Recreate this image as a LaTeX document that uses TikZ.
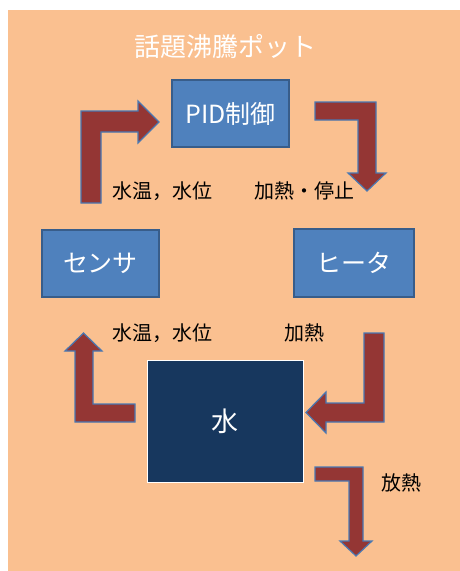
\documentclass[tikz,border=0pt]{standalone}
\usepackage{fontspec}
\setmainfont{Noto Sans CJK JP}
\definecolor{peach}{HTML}{FAC090}
\definecolor{boxfill}{HTML}{4F81BD}
\definecolor{boxline}{HTML}{385D8A}
\definecolor{arrfill}{HTML}{943634}
\definecolor{arrline}{HTML}{4A78B2}
\definecolor{waterfill}{HTML}{17375E}
\begin{document}
\begin{tikzpicture}[x=1pt,y=-1pt,
  blk/.style={draw=boxline,line width=1.4pt,fill=boxfill,text=white,font=\fontsize{25}{28}\selectfont,inner sep=0pt},
  lbl/.style={text=black,font=\fontsize{20}{23}\selectfont,inner sep=0pt},
  barrow/.style={draw=arrline,line width=1.2pt,fill=arrfill,line join=miter}]
\useasboundingbox (0,0) rectangle (460,571);
\fill[white] (0,0) rectangle (460,571);
\fill[peach] (8,10) rectangle (460,571);
\node[text=white,font=\fontsize{26}{30}\selectfont,inner sep=0pt] (title) at (225,47) {話題沸騰ポット};
\node[blk,minimum width=117pt,minimum height=67pt] (pid) at (230.5,113.5) {PID制御};
\node[blk,minimum width=117pt,minimum height=67pt] (sensor) at (100.5,263.5) {センサ};
\node[blk,minimum width=120pt,minimum height=68pt] (heater) at (354,263) {ヒータ};
\node[draw=white,line width=1pt,fill=waterfill,text=white,font=\fontsize{27}{30}\selectfont,minimum width=156pt,minimum height=122pt,inner sep=0pt] (water) at (225,421) {水};
\node[lbl] (l1) at (162,191) {水温，水位};
\node[lbl] (l2) at (304,191) {加熱・停止};
\node[lbl] (l3) at (162,333) {水温，水位};
\node[lbl] (l4) at (304,333) {加熱};
\node[lbl] (l5) at (401,483) {放熱};
% sensor -> PID
\draw[barrow] (81,203) -- (81,111) -- (138,111) -- (138,101) -- (159,122) -- (138,143) -- (138,132) -- (101,132) -- (101,203) -- cycle;
% PID -> heater
\draw[barrow] (315,102) -- (376,102) -- (376,173) -- (386,173) -- (367,191) -- (348,173) -- (358,173) -- (358,120) -- (315,120) -- cycle;
% water -> sensor
\draw[barrow] (135,404) -- (135,422) -- (75,422) -- (75,351) -- (65,351) -- (83.5,333) -- (102,351) -- (93,351) -- (93,404) -- cycle;
% heater -> water
\draw[barrow] (364,333) -- (384,333) -- (384,422) -- (326,422) -- (326,433) -- (306,412.5) -- (326,392) -- (326,403) -- (364,403) -- cycle;
% water -> out
\draw[barrow] (315,467) -- (363,467) -- (363,541) -- (372,541) -- (356,556) -- (340,541) -- (349,541) -- (349,481) -- (315,481) -- cycle;
\end{tikzpicture}
\end{document}
